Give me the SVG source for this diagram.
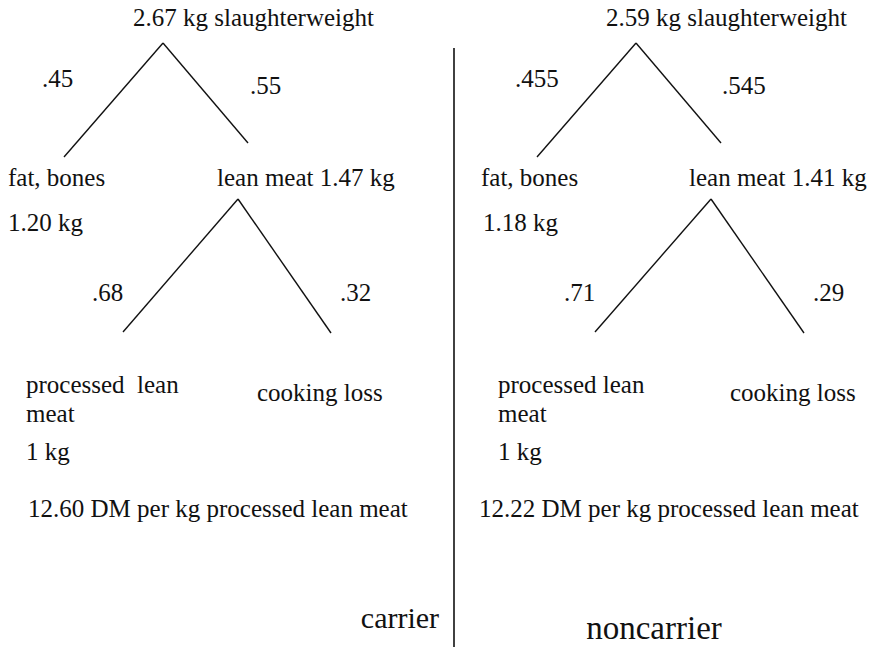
<svg xmlns="http://www.w3.org/2000/svg" width="896" height="647" viewBox="0 0 896 647">
<style>
text { font-family: "Liberation Serif", "Times New Roman", Times, serif; font-size: 25px; fill: #111; }
.big { font-size: 30px; }
.big2 { font-size: 33px; }
.edge { stroke: #111; stroke-width: 1.4; fill: none; }
.divider { stroke: #111; stroke-width: 1.6; }
</style>
<rect width="896" height="647" fill="#fff"/>
<g id="connectors">
  <line class="edge" x1="163" y1="43" x2="64" y2="157"/>
  <line class="edge" x1="163" y1="43" x2="248" y2="143"/>
  <line class="edge" x1="238" y1="199" x2="123" y2="332"/>
  <line class="edge" x1="238" y1="199" x2="331" y2="333"/>
  <line class="edge" x1="636" y1="43" x2="537" y2="157"/>
  <line class="edge" x1="636" y1="43" x2="721" y2="143"/>
  <line class="edge" x1="711" y1="199" x2="595" y2="332"/>
  <line class="edge" x1="711" y1="199" x2="804" y2="333"/>
  <text x="42" y="87">.45</text>
  <text x="250" y="94">.55</text>
  <text x="92" y="301">.68</text>
  <text x="340" y="301">.32</text>
  <text x="515" y="87">.455</text>
  <text x="722" y="94">.545</text>
  <text x="564" y="301">.71</text>
  <text x="813" y="301">.29</text>
</g>
<line id="divider" class="divider" x1="454" y1="48" x2="454" y2="647"/>
<g id="carrier">
  <g id="c-slaughter"><text x="133" y="26">2.67 kg slaughterweight</text></g>
  <g id="c-fat"><text x="8" y="186">fat, bones</text><text x="8" y="231">1.20 kg</text></g>
  <g id="c-lean"><text x="217" y="186">lean meat 1.47 kg</text></g>
  <g id="c-processed"><text x="26" y="393" xml:space="preserve">processed  lean</text><text x="26" y="422">meat</text><text x="26" y="460">1 kg</text></g>
  <g id="c-cooking"><text x="257" y="401">cooking loss</text></g>
  <g id="c-price"><text x="28" y="517">12.60 DM per kg processed lean meat</text></g>
  <g id="c-label"><text class="big" x="400" y="628" text-anchor="middle">carrier</text></g>
</g>
<g id="noncarrier">
  <g id="n-slaughter"><text x="606" y="26">2.59 kg slaughterweight</text></g>
  <g id="n-fat"><text x="481" y="186">fat, bones</text><text x="483" y="231">1.18 kg</text></g>
  <g id="n-lean"><text x="689" y="186">lean meat 1.41 kg</text></g>
  <g id="n-processed"><text x="498" y="393">processed lean</text><text x="498" y="422">meat</text><text x="498" y="460">1 kg</text></g>
  <g id="n-cooking"><text x="730" y="401">cooking loss</text></g>
  <g id="n-price"><text x="479" y="517">12.22 DM per kg processed lean meat</text></g>
  <g id="n-label"><text class="big2" x="654" y="639" text-anchor="middle">noncarrier</text></g>
</g>
</svg>
